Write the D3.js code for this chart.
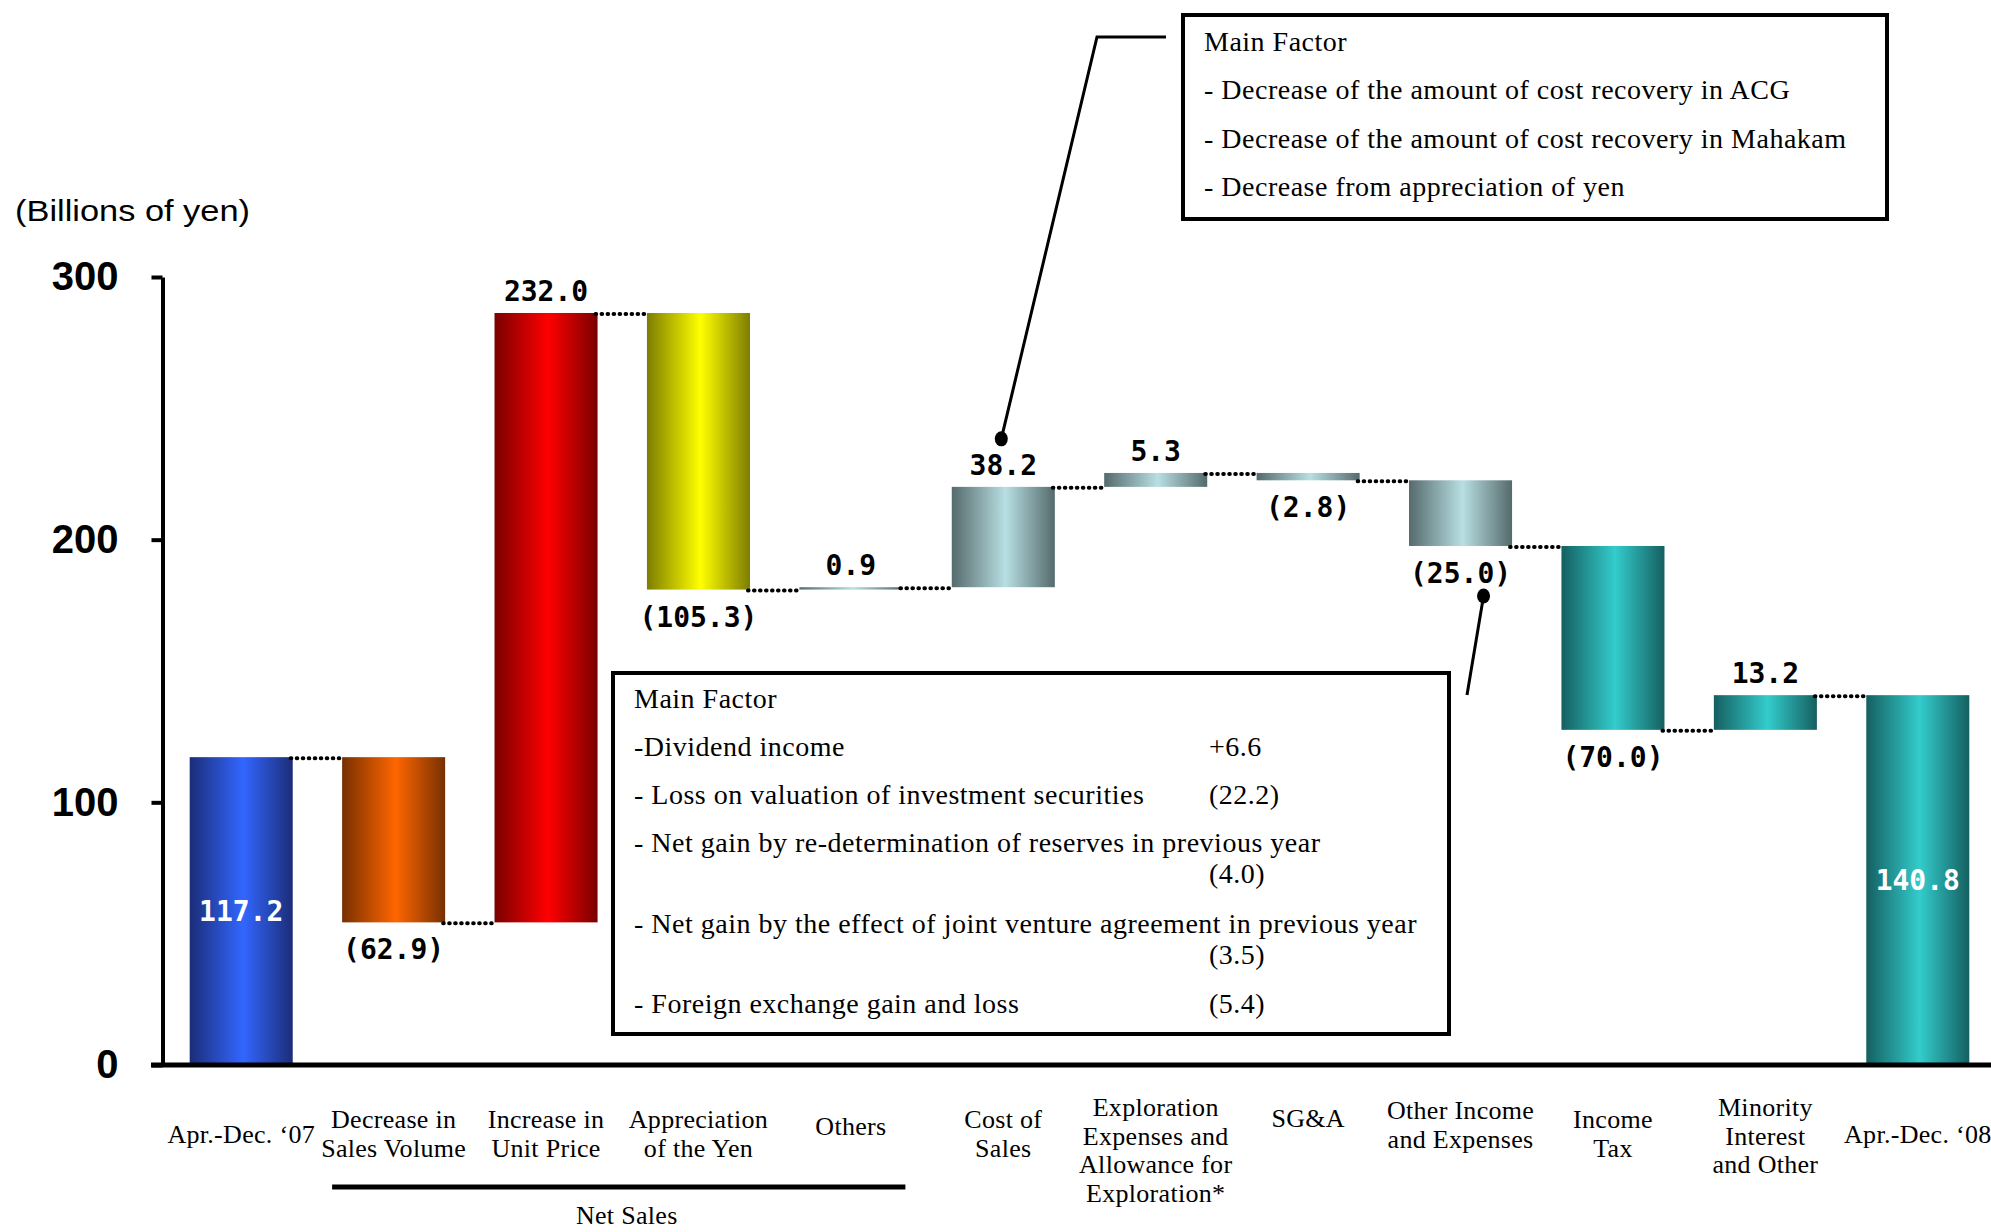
<!DOCTYPE html>
<html><head><meta charset="utf-8">
<script src="https://cdn.jsdelivr.net/npm/d3@7"></script>
<style>
html,body{margin:0;padding:0;background:#fff;}
svg{display:block;}
</style></head>
<body>
<svg id="chart" width="1991" height="1232"></svg>
<script>
// ---------------- DATA ----------------
const categories = ["Apr.-Dec. '07","Decrease in Sales Volume","Increase in Unit Price","Appreciation of the Yen","Others","Cost of Sales","Exploration Expenses and Allowance for Exploration*","SG&A","Other Income and Expenses","Income Tax","Minority Interest and Other","Apr.-Dec. '08"];
const categoryLines = [
  ["Apr.-Dec. \u201807"],
  ["Decrease in","Sales Volume"],
  ["Increase in","Unit Price"],
  ["Appreciation","of the Yen"],
  ["Others"],
  ["Cost of","Sales"],
  ["Exploration","Expenses and","Allowance for","Exploration*"],
  ["SG&A"],
  ["Other Income","and Expenses"],
  ["Income","Tax"],
  ["Minority","Interest","and Other"],
  ["Apr.-Dec. \u201808"]
];
const values = [117.2, -62.9, 232.0, -105.3, 0.9, 38.2, 5.3, -2.8, -25.0, -70.0, 13.2, 140.8];
const barKinds = ["total","delta","delta","delta","delta","delta","delta","delta","delta","delta","delta","total"];
const valueLabels = ["117.2","(62.9)","232.0","(105.3)","0.9","38.2","5.3","(2.8)","(25.0)","(70.0)","13.2","140.8"];
const yTicks = [0, 100, 200, 300];
const yUnit = "(Billions of yen)";
const groupLabel = "Net Sales";
const groupRange = [1, 4];
const note1Lines = ["Main Factor",
  "- Decrease of the amount of cost recovery in ACG",
  "- Decrease of the amount of cost recovery in Mahakam",
  "- Decrease from appreciation of yen"];
const note2Items = ["Main Factor",
  "-Dividend income",
  "- Loss on valuation of investment securities",
  "- Net gain by re-determination of reserves in previous year",
  "",
  "- Net gain by the effect of joint venture agreement in previous year",
  "",
  "- Foreign exchange gain and loss"];
const note2Values = ["", "+6.6", "(22.2)", "", "(4.0)", "", "(3.5)", "(5.4)"];

// ---------------- STYLE ----------------
const palette = {
  blue:   ["#1b2d78", "#3366ff", "#1b2d78"],
  orange: ["#773000", "#ff6600", "#773000"],
  red:    ["#7a0000", "#ff0000", "#7a0000"],
  yellow: ["#7d7d00", "#ffff00", "#7d7d00"],
  gray:   ["#556a6c", "#b8dfe3", "#556a6c"],
  teal:   ["#155f60", "#33cccc", "#155f60"]
};
const barColor = ["blue","orange","red","yellow","gray","gray","gray","gray","gray","teal","teal","teal"];
const labelNudge = {4: -8, 7: -16, 8: -9};
const serif = "Liberation Serif, Times New Roman, serif";

const svg = d3.select("#chart");
const W = 1991, H = 1232;

const x = d3.scaleBand().domain(categories).range([165, 1994]).paddingInner(0.324).paddingOuter(0.162);
const y = d3.scaleLinear().domain([0, 300]).range([1065, 277]);

// gradients
const defs = svg.append("defs");
Object.entries(palette).forEach(([k, c]) => {
  const g = defs.append("linearGradient").attr("id", "g-" + k).attr("x1", "0%").attr("x2", "100%").attr("y1", "0%").attr("y2", "0%");
  g.append("stop").attr("offset", "0%").attr("stop-color", c[0]);
  g.append("stop").attr("offset", "52%").attr("stop-color", c[1]);
  g.append("stop").attr("offset", "100%").attr("stop-color", c[2]);
});

// compute waterfall
let run = 0;
const bars = values.map((v, i) => {
  let start, end;
  if (barKinds[i] === "total") { start = 0; end = v; run = v; }
  else { start = run; end = run + v; run = end; }
  return {cat: categories[i], v, start, end, i, label: valueLabels[i]};
});

// y unit
svg.append("text").attr("x", 15).attr("y", 221).text(yUnit)
  .attr("font-family", "Liberation Sans, Arial, sans-serif").attr("font-size", 29).attr("fill", "#000")
  .attr("textLength", 235).attr("lengthAdjust", "spacingAndGlyphs");

// axis
const yAxis = d3.axisLeft(y).tickValues(yTicks).tickSize(11).tickSizeOuter(0).tickPadding(33).tickFormat(d3.format("d"));
const ag = svg.append("g").attr("transform", "translate(162.5,0)").call(yAxis);
ag.select(".domain").attr("stroke", "#000").attr("stroke-width", 4);
ag.selectAll(".tick line").attr("stroke", "#000").attr("stroke-width", 4);
ag.selectAll(".tick text").attr("font-family", "Liberation Sans, Arial, sans-serif").attr("font-weight", "bold")
  .attr("font-size", 40).attr("fill", "#000");

// bars
svg.append("g").selectAll("rect").data(bars).join("rect")
  .attr("x", d => x(d.cat))
  .attr("width", x.bandwidth())
  .attr("y", d => y(Math.max(d.start, d.end)))
  .attr("height", d => Math.max(1, Math.abs(y(d.start) - y(d.end))))
  .attr("fill", d => "url(#g-" + barColor[d.i] + ")");

// connectors
const conn = bars.slice(0, -1).map((d, i) => ({x1: x(d.cat) + x.bandwidth() - 2, x2: x(bars[i + 1].cat) + 2, yv: d.end}));
svg.append("g").selectAll("line").data(conn).join("line")
  .attr("x1", d => d.x1).attr("x2", d => d.x2)
  .attr("y1", d => y(d.yv) + 1).attr("y2", d => y(d.yv) + 1)
  .attr("stroke", "#000").attr("stroke-width", 4).attr("stroke-linecap", "round")
  .attr("stroke-dasharray", "0.6,5.4");

// baseline
svg.append("line").attr("x1", 151).attr("x2", W).attr("y1", y(0)).attr("y2", y(0))
  .attr("stroke", "#000").attr("stroke-width", 5);

// value labels
svg.append("g").selectAll("text").data(bars).join("text")
  .attr("x", d => x(d.cat) + x.bandwidth() / 2)
  .attr("y", d => {
    if (barKinds[d.i] === "total") return (y(0) + y(d.end)) / 2 + 10;
    if (d.v >= 0) return y(d.end) - 12;
    return y(d.end) + 37;
  })
  .attr("text-anchor", "middle")
  .attr("font-family", "DejaVu Sans Mono, monospace").attr("font-weight", "bold").attr("font-size", 28)
  .attr("fill", d => barKinds[d.i] === "total" ? "#fff" : "#000")
  .text(d => d.label);

// category labels
const lh = 28.6;
const cg = svg.append("g").attr("font-family", serif).attr("font-size", 26).attr("letter-spacing", 0.3).attr("fill", "#000");
categoryLines.forEach((lines, i) => {
  const n = lines.length;
  let y0 = Math.max(1134.6 - (n - 1) * lh / 2, 1108) + 8 + (labelNudge[i] || 0);
  const t = cg.append("text").attr("text-anchor", "middle");
  lines.forEach((l, j) => {
    t.append("tspan").attr("x", x(categories[i]) + x.bandwidth() / 2).attr("y", y0 + j * lh).text(l);
  });
});

// group bracket
const gx1 = x(categories[groupRange[0]]) - 10;
const gx2 = x(categories[groupRange[1]]) + x.bandwidth() + 3;
svg.append("line").attr("x1", gx1).attr("x2", gx2).attr("y1", 1187).attr("y2", 1187).attr("stroke", "#000").attr("stroke-width", 5);
svg.append("text").attr("x", (gx1 + gx2) / 2 + 8).attr("y", 1224).attr("text-anchor", "middle")
  .attr("font-family", serif).attr("font-size", 26).attr("letter-spacing", 0.3).text(groupLabel);

// annotation 1
const b6 = bars[5];
const d1 = {x: x(b6.cat) + x.bandwidth() / 2 - 2, y: y(b6.end) - 48};
svg.append("polyline").attr("points", [[1166, 37], [1097, 37], [d1.x, d1.y]].map(p => p.join(",")).join(" "))
  .attr("fill", "none").attr("stroke", "#000").attr("stroke-width", 3);
svg.append("ellipse").attr("cx", d1.x).attr("cy", d1.y).attr("rx", 6.5).attr("ry", 7.5).attr("fill", "#000");
svg.append("rect").attr("x", 1183).attr("y", 15).attr("width", 704).attr("height", 204)
  .attr("fill", "#fff").attr("stroke", "#000").attr("stroke-width", 4);
const n1 = svg.append("g").attr("font-family", serif).attr("font-size", 28).attr("letter-spacing", 0.5).attr("fill", "#000");
const n1y = [43, 91, 140, 188];
note1Lines.forEach((l, i) => {
  n1.append("text").attr("x", 1204).attr("y", n1y[i] + 8).text(l);
});

// annotation 2
const b9 = bars[8];
const d2 = {x: x(b9.cat) + x.bandwidth() / 2 + 23, y: y(b9.end) + 50};
svg.append("line").attr("x1", d2.x).attr("y1", d2.y).attr("x2", 1467).attr("y2", 695)
  .attr("stroke", "#000").attr("stroke-width", 3);
svg.append("ellipse").attr("cx", d2.x).attr("cy", d2.y).attr("rx", 6.5).attr("ry", 7.5).attr("fill", "#000");
svg.append("rect").attr("x", 613).attr("y", 673).attr("width", 836).attr("height", 361)
  .attr("fill", "#fff").attr("stroke", "#000").attr("stroke-width", 4);
const n2 = svg.append("g").attr("font-family", serif).attr("font-size", 28).attr("letter-spacing", 0.5).attr("fill", "#000");
const n2y = [700, 748, 796, 844, 875, 924.5, 956, 1004.5];
note2Items.forEach((l, i) => {
  if (l) n2.append("text").attr("x", 634).attr("y", n2y[i] + 8).text(l);
  if (note2Values[i]) n2.append("text").attr("x", 1209).attr("y", n2y[i] + 8).text(note2Values[i]);
});
</script>
</body></html>
